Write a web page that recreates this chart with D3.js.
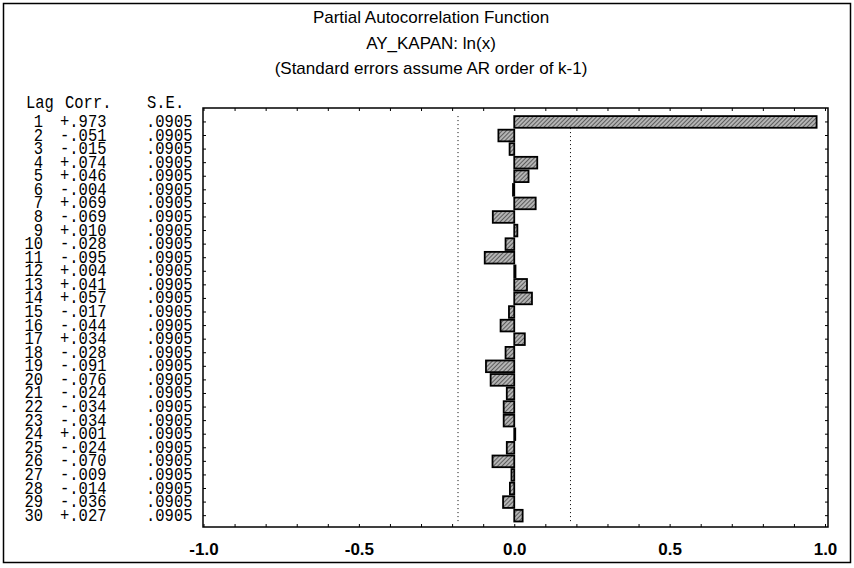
<!DOCTYPE html>
<html lang="en">

<head>
    <meta charset="utf-8">
    <title>Partial Autocorrelation Function</title>
    <script src="https://d3js.org/d3.v7.min.js"></script>
    <style>
        body { margin: 0; background: #fff; }
        .title { font-family: "Liberation Sans", Arial, sans-serif; font-size: 17px; text-anchor: middle; }
        .tbl { font-family: "Liberation Mono", "Courier New", monospace; font-size: 15.5px; }
        .axis text { font-family: "Liberation Sans", Arial, sans-serif; font-size: 17px; font-weight: bold; fill: #000; }
    </style>
</head>

<body>
    <script type="text/javascript">

        //Consts
        const w = 854;
        const h = 568;

        //Data - PACF table as printed
        const lags = d3.range(1, 31);
        const corr = [0.973, -0.051, -0.015, 0.074, 0.046, -0.004, 0.069, -0.069, 0.010, -0.028,
            -0.095, 0.004, 0.041, 0.057, -0.017, -0.044, 0.034, -0.028, -0.091, -0.076,
            -0.024, -0.034, -0.034, 0.001, -0.024, -0.070, -0.009, -0.014, -0.036, 0.027];
        const se = lags.map(() => 0.0905);
        const xTicks = [-1.0, -0.5, 0.0, 0.5, 1.0];
        const titles = ["Partial Autocorrelation Function", "AY_KAPAN: ln(x)", "(Standard errors assume AR order of k-1)"];

        const data = lags.map((l, i) => ({ lag: l, corr: corr[i], se: se[i] }));

        //plot frame
        const plot = { left: 203, right: 828, top: 108, bottom: 527 };

        //scales
        const xScale = d3.scaleLinear()
            .domain([-1, 1])
            .range([203.5, 825]);

        const yScale = d3.scaleBand()
            .domain(lags)
            .range([114.2, 523.4])
            .padding(0.14);

        const svg = d3.select("body")
            .append("svg")
            .attr("width", w)
            .attr("height", h);

        //hatch pattern
        const pat = svg.append("defs").append("pattern")
            .attr("id", "hatch")
            .attr("patternUnits", "userSpaceOnUse")
            .attr("width", 3)
            .attr("height", 3)
            .attr("patternTransform", "rotate(45)");
        pat.append("rect").attr("width", 3).attr("height", 3).attr("fill", "#b4b4b4");
        pat.append("line").attr("x1", 0).attr("y1", 0).attr("x2", 0).attr("y2", 3)
            .attr("stroke", "#222").attr("stroke-width", 1.2);

        //outer border
        svg.append("rect")
            .attr("x", 3.5).attr("y", 3.5)
            .attr("width", 847).attr("height", 559)
            .attr("fill", "none").attr("stroke", "#000").attr("stroke-width", 1.5);

        //titles
        svg.selectAll(".title")
            .data(titles)
            .join("text")
            .attr("class", "title")
            .attr("x", 431)
            .attr("y", (d, i) => 23 + i * 25.5)
            .text(d => d);

        //plot box
        svg.append("rect")
            .attr("x", plot.left).attr("y", plot.top)
            .attr("width", plot.right - plot.left).attr("height", plot.bottom - plot.top)
            .attr("fill", "none").attr("stroke", "#000").attr("stroke-width", 1.5);

        //minor ticks top and bottom every 0.1
        const minor = d3.range(-10, 11).map(d => d / 10);
        svg.append("g")
            .attr("transform", "translate(0," + plot.bottom + ")")
            .call(d3.axisTop(xScale).tickValues(minor).tickSize(3).tickFormat(""))
            .call(g => g.select(".domain").remove());
        svg.append("g")
            .attr("transform", "translate(0," + plot.top + ")")
            .call(d3.axisBottom(xScale).tickValues(minor).tickSize(3).tickFormat(""))
            .call(g => g.select(".domain").remove());

        //row ticks left and right
        svg.append("g")
            .attr("transform", "translate(" + plot.left + ",0)")
            .call(d3.axisRight(yScale).tickSize(3).tickFormat(""))
            .call(g => g.select(".domain").remove());
        svg.append("g")
            .attr("transform", "translate(" + plot.right + ",0)")
            .call(d3.axisLeft(yScale).tickSize(3).tickFormat(""))
            .call(g => g.select(".domain").remove());

        //bottom labels - plain hyphen like the original print
        svg.append("g")
            .attr("class", "axis")
            .attr("transform", "translate(0," + (plot.bottom + 13) + ")")
            .call(d3.axisBottom(xScale).tickValues(xTicks).tickSize(0)
                .tickFormat(d => d.toFixed(1)))
            .call(g => g.select(".domain").remove());

        //confidence bands +/- 2 s.e.
        svg.selectAll(".band")
            .data([-2 * se[0], 2 * se[0]])
            .join("line")
            .attr("class", "band")
            .attr("x1", d => xScale(d)).attr("x2", d => xScale(d))
            .attr("y1", yScale(1)).attr("y2", yScale(30) + yScale.bandwidth())
            .attr("stroke", "#000").attr("stroke-width", 1)
            .attr("stroke-dasharray", "1,3");

        //bars
        svg.selectAll(".bar")
            .data(data)
            .join("rect")
            .attr("class", "bar")
            .attr("x", d => xScale(Math.min(0, d.corr)))
            .attr("y", d => yScale(d.lag))
            .attr("width", d => Math.max(1, Math.abs(xScale(d.corr) - xScale(0))))
            .attr("height", yScale.bandwidth())
            .attr("fill", "url(#hatch)")
            .attr("stroke", "#000")
            .attr("stroke-width", 1.8);

        //table
        const fmtCorr = v => (v < 0 ? "-" : "+") + Math.abs(v).toFixed(3).slice(1);
        const fmtSe = v => v.toFixed(4).slice(1);
        const rowY = d => yScale(d.lag) + yScale.bandwidth() / 2 + 5;

        function cell(x, y, txt, anchor) {
            svg.append("text")
                .attr("class", "tbl")
                .attr("text-anchor", anchor)
                .attr("transform", "translate(" + x + "," + y + ") scale(1,1.15)")
                .text(txt);
        }

        cell(26, 108, "Lag", "start");
        cell(65, 108, "Corr.", "start");
        cell(147, 108, "S.E.", "start");

        data.forEach(d => {
            cell(43, rowY(d), d.lag, "end");
            cell(60, rowY(d), fmtCorr(d.corr), "start");
            cell(146, rowY(d), fmtSe(d.se), "start");
        });

    </script>
</body>

</html>
